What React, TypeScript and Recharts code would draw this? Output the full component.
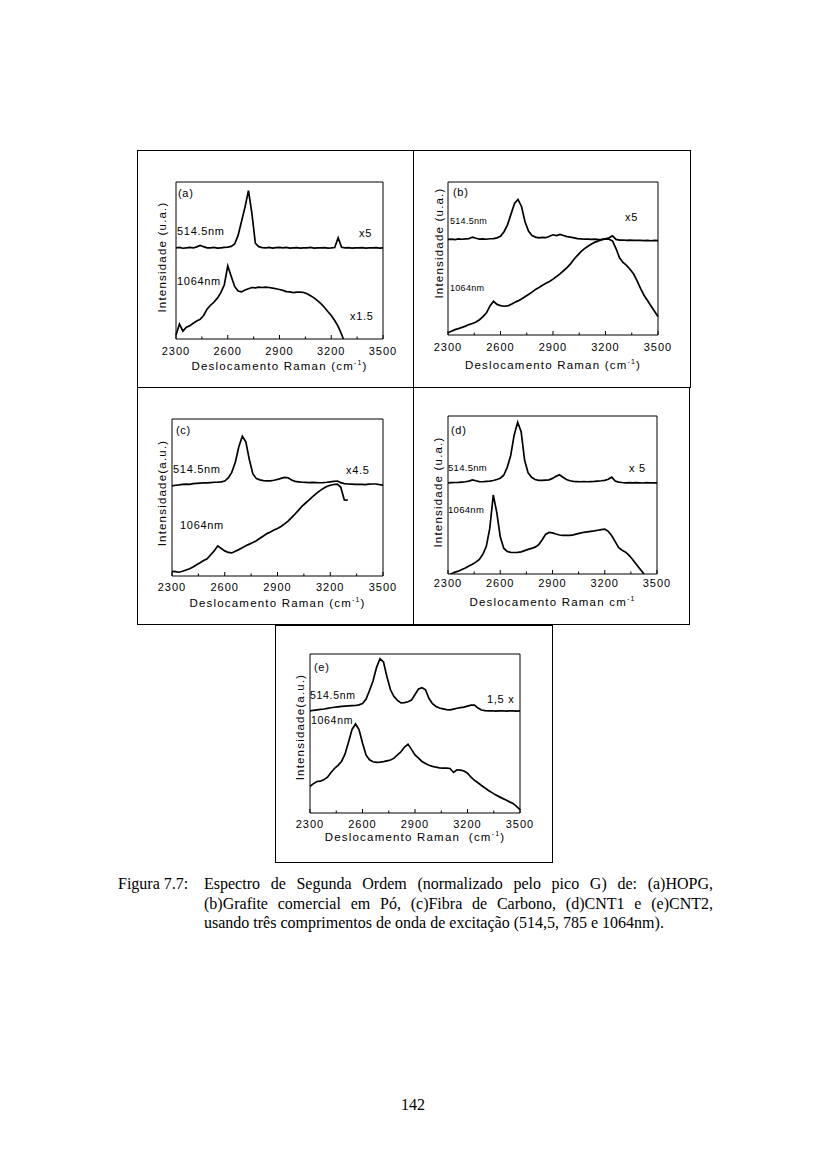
import React from "react";
import { LineChart, Line, XAxis, YAxis, ReferenceArea } from "recharts";

// Raman shift grid (cm-1), shared by every spectrum
const ramanShift = [
  2300, 2320, 2340, 2360, 2380, 2400, 2420, 2440, 2460, 2480,
  2500, 2520, 2540, 2560, 2580, 2600, 2620, 2640, 2660, 2680,
  2700, 2720, 2740, 2760, 2780, 2800, 2820, 2840, 2860, 2880,
  2900, 2920, 2940, 2960, 2980, 3000, 3020, 3040, 3060, 3080,
  3100, 3120, 3140, 3160, 3180, 3200, 3220, 3240, 3260, 3280,
  3300, 3320, 3340, 3360, 3380, 3400, 3420, 3440, 3460, 3480,
  3500,
];
const majorTicks = [2300, 2600, 2900, 3200, 3500];
const allTicks = [2300, 2450, 2600, 2750, 2900, 3050, 3200, 3350, 3500];

// (a) HOPG
const hopg514 = [
  58, 58.3, 57.8, 58.1, 58.4, 58, 58.7, 59.6, 58.8, 58.1,
  58, 58.3, 57.9, 58.1, 58.3, 58.5, 59, 60.5, 66, 75,
  84, 94.5, 80, 61, 58.8, 58.2, 58, 58.4, 57.9, 58.2,
  58.4, 58, 58.3, 57.9, 58.1, 58.2, 57.9, 58.1, 58, 58.3,
  57.9, 58.1, 58, 58.2, 57.9, 58, 58.3, 64.5, 58.4, 58,
  58.2, 57.9, 58.1, 58, 58.2, 57.9, 58.1, 58, 58.2, 57.9,
  58,
];
const hopg1064 = [
  2.5, 9.5, 5, 7.5, 8.5, 10, 11.5, 12.5, 15, 19,
  21.5, 23.5, 26, 29.5, 34.5, 46.5, 40, 33.5, 30.5, 30,
  31.2, 32, 32.8, 32.6, 33, 32.8, 33, 32.8, 32.4, 32,
  31.5, 31, 30.2, 30, 29.6, 29.8, 29.8, 29.6, 28.8, 27.5,
  26.2, 24.5, 22.5, 20.2, 17.5, 15, 11.8, 8, 3, -3,
  null, null, null, null, null, null, null, null, null, null,
  null,
];

// (b) Grafite comercial em Pó
const grafite514 = [
  62.5, 62.7, 62.4, 62.8, 62.6, 62.8, 63, 64, 63.2, 62.7,
  62.8, 62.6, 62.9, 63, 63.5, 64.5, 67.5, 72, 79, 86,
  88.6, 84, 74, 68, 65, 64, 63.5, 63.8, 63.6, 64.5,
  65.5, 65, 65.8, 65, 64.3, 64, 63.5, 63, 62.8, 62.6,
  62.7, 62.5, 62.6, 62.4, 62.5, 62.8, 63.5, 64.8, 62.5, 62,
  62.1, 61.8, 62, 61.8, 61.9, 61.8, 61.7, 61.9, 61.6, 61.8,
  61.7,
];
const grafite1064 = [
  1.5, 2.5, 3.5, 4.2, 5, 5.8, 6.8, 7.5, 8.5, 10,
  12, 14.5, 19, 22, 20, 19.2, 18.8, 19, 20, 21.2,
  22.3, 23.5, 25, 26.5, 28, 29.8, 31, 32.5, 33.8, 35,
  36.5, 38.2, 40, 42, 44, 46.5, 49.5, 52, 54.5, 56.5,
  58, 59.5, 60.7, 61.5, 62.3, 62.8, 62.6, 61.5, 56.5, 50.5,
  47.4, 45.5, 43, 40, 35.5, 30.5, 26, 22.5, 19, 15.5,
  12,
];

// (c) Fibra de Carbono
const fibra514 = [
  57.4, 57.8, 58, 58.3, 58.5, 58.4, 58.8, 59, 59.2, 59.4,
  59.3, 59.5, 59.7, 59.8, 60, 60.5, 62.5, 66, 72.5, 82.3,
  89, 85.5, 74, 65, 62, 61.2, 60.8, 60.6, 60.6, 61,
  61.5, 62.2, 62.8, 62.6, 61.2, 60.3, 60, 59.7, 59.6, 59.5,
  59.6, 59.5, 59.4, 59.5, 59.7, 60, 60.3, 60.5, 59.5, 58.8,
  58.6, 58.5, 58.4, 58.3, 58.4, 58.2, 58.5, 58.6, 58.6, 58.2,
  57.9,
];
const fibra1064 = [
  3, 2.8, 2.4, 3, 3.8, 4.6, 5.8, 7.2, 8.5, 9.8,
  11, 13.5, 16, 19.2, 17.5, 16, 15, 14.7, 15.8, 16.8,
  18, 19.2, 20.3, 21.3, 22.5, 24, 25.5, 27, 28, 29.3,
  30.2, 31.5, 33.2, 35, 37.2, 39.5, 42, 44.5, 46.5, 48.5,
  50.5, 52.5, 54.2, 55.8, 57, 57.8, 58.3, 58.5, 56.5, 48.5,
  48.3, null, null, null, null, null, null, null, null, null,
  null,
];

// (d) CNT1
const cnt1514 = [
  57.7, 57.8, 57.9, 58, 58.2, 58.4, 58.8, 59.6, 59, 58.5,
  58.4, 58.6, 58.8, 59.2, 59.8, 60.6, 62.5, 67.5, 75, 88,
  96, 90, 72, 64, 61.2, 59.8, 59.3, 59.2, 59.4, 59.6,
  60.5, 61.8, 62.8, 61.2, 59.8, 59, 58.6, 58.5, 58.4, 58.5,
  58.4, 58.5, 58.6, 58.8, 59, 59.3, 60, 61.3, 58.8, 58.2,
  57.9, 57.7, 57.8, 57.7, 57.8, 57.7, 57.6, 57.8, 57.7, 57.7,
  57.7,
];
const cnt11064 = [
  -1, 0.2, 1.2, 1.8, 2.8, 3.8, 5, 6.2, 7.5, 9.2,
  12.5, 17.5, 29, 50, 39, 23.5, 16.3, 14.3, 13.7, 13.6,
  13.7, 14, 14.8, 15.6, 16.2, 17, 18.5, 21.5, 25, 26.3,
  26, 25.3, 24.7, 24.5, 24.4, 24.4, 24.8, 25.4, 25.9, 26.4,
  26.7, 27, 27.3, 27.7, 28.1, 28.4, 27, 24.2, 20.5, 16.6,
  15, 13.8, 11.8, 9.2, 6.3, 3.5, 0.8, -3, null, null,
  null,
];

// (e) CNT2
const cnt2514 = [
  64.2, 64.6, 64.9, 65.2, 65.4, 65.8, 66.2, 66.5, 66.8, 67,
  67.2, 67.4, 67.5, 67.6, 68, 68.8, 71.5, 77, 83, 91.5,
  97, 95, 85.5, 77.5, 73.2, 70.8, 69.2, 69.4, 70, 71,
  74.5, 78, 78.8, 77.5, 72, 68.8, 67, 66, 65.5, 65,
  64.9, 65.3, 65.9, 66.3, 66.6, 67.2, 67.8, 67.8, 66, 64.8,
  64.4, 64.2, 64.3, 64.1, 64.2, 64.3, 64.1, 64.2, 64.2, 64.1,
  64.2,
];
const cnt21064 = [
  16.7, 18.5, 19.8, 20, 21, 22.5, 25.5, 28, 30, 32.4,
  37, 44.5, 52.5, 56, 52.5, 44, 36.5, 33.5, 32.2, 31.8,
  32, 32.3, 32.8, 33.3, 34.5, 36.5, 38.5, 41.5, 43.3, 40,
  36.5, 34.5, 32.4, 31.2, 30, 29.3, 28.8, 28.4, 28.2, 28.2,
  28, 25.5, 27.2, 27, 26.4, 25, 22.5, 20.5, 19, 17.3,
  15.7, 14.2, 12.8, 11.4, 10.3, 9.2, 8.2, 7, 6, 4.2,
  2.1,
];

const FONT = '"Liberation Sans", Arial, Helvetica, sans-serif';
const SERIF = '"Liberation Serif", "Times New Roman", serif';
const AXIS_H = 20;

type Rect = { x: number; y: number; w: number; h: number };
type Note = { text: string; x: number; y: number; size: number };

const RamanTick = (props: any) => {
  const { x, y, payload, gap } = props;
  const major = majorTicks.includes(payload.value);
  return (
    <g>
      <line x1={x} x2={x} y1={y} y2={y - (major ? 4 : 2.5)} stroke="#000" strokeWidth={1} />
      {major && (
        <text
          x={x}
          y={y + gap + 4}
          textAnchor="middle"
          fontSize={11}
          letterSpacing={1}
          fontFamily={FONT}
          fill="#000"
        >
          {payload.value}
        </text>
      )}
    </g>
  );
};

interface PanelProps {
  box: Rect;
  plot: Rect;
  hi: (number | null)[];
  lo: (number | null)[];
  tickGap: number;
  xTitle: React.ReactNode;
  xTitleY: number;
  yTitle: string;
  yTitleX: number;
  yTitleY: number;
  notes: Note[];
}

function Panel({ box, plot, hi, lo, tickGap, xTitle, xTitleY, yTitle, yTitleX, yTitleY, notes }: PanelProps) {
  const data = ramanShift.map((x, i) => ({ x, hi: hi[i], lo: lo[i] }));
  const margin = {
    left: plot.x - box.x,
    top: plot.y - box.y,
    right: box.x + box.w - plot.x - plot.w,
    bottom: box.y + box.h - plot.y - plot.h - AXIS_H,
  };
  return (
    <>
      <div
        style={{
          position: "absolute",
          left: box.x,
          top: box.y,
          width: box.w + 1,
          height: box.h + 1,
          border: "1px solid #000",
          boxSizing: "border-box",
        }}
      />
      <div style={{ position: "absolute", left: box.x, top: box.y }}>
        <LineChart width={box.w} height={box.h} data={data} margin={margin}>
          <XAxis
            dataKey="x"
            type="number"
            domain={[2300, 3500]}
            ticks={allTicks}
            interval={0}
            height={AXIS_H}
            axisLine={false}
            tickLine={false}
            tickSize={0}
            tickMargin={0}
            tick={(p: any) => <RamanTick {...p} gap={tickGap} />}
          />
          <YAxis hide domain={[0, 100]} allowDataOverflow />
          <ReferenceArea x1={2300} x2={3500} y1={0} y2={100} fill="none" stroke="#000" strokeWidth={1} />
          <Line type="linear" dataKey="hi" stroke="#000" strokeWidth={1.7} dot={false} isAnimationActive={false} />
          <Line type="linear" dataKey="lo" stroke="#000" strokeWidth={1.7} dot={false} isAnimationActive={false} />
        </LineChart>
      </div>
      <div
        style={{
          position: "absolute",
          left: plot.x + plot.w / 2,
          top: xTitleY,
          transform: "translate(-50%, -50%)",
          whiteSpace: "pre",
          fontFamily: FONT,
          fontSize: 11.5,
          letterSpacing: 1.2,
          lineHeight: 1,
        }}
      >
        {xTitle}
      </div>
      <div
        style={{
          position: "absolute",
          left: yTitleX,
          top: yTitleY,
          transform: "translate(-50%, -50%) rotate(-90deg)",
          whiteSpace: "nowrap",
          fontFamily: FONT,
          fontSize: 11.5,
          letterSpacing: 1.2,
          lineHeight: 1,
        }}
      >
        {yTitle}
      </div>
      {notes.map((n) => (
        <div
          key={n.text}
          style={{
            position: "absolute",
            left: n.x,
            top: n.y,
            transform: "translateY(-50%)",
            whiteSpace: "pre",
            fontFamily: FONT,
            fontSize: n.size,
            letterSpacing: n.size >= 10.5 ? 0.7 : 0.3,
            lineHeight: 1,
          }}
        >
          {n.text}
        </div>
      ))}
    </>
  );
}

const sup = (s: string) => (
  <sup style={{ fontSize: 7, verticalAlign: "super", lineHeight: 0 }}>{s}</sup>
);

export default function App() {
  return (
    <div style={{ position: "absolute", left: 0, top: 0, width: 826, height: 1169, background: "#fff", color: "#000" }}>
      <Panel
        box={{ x: 137, y: 150, w: 276, h: 237 }}
        plot={{ x: 176, y: 182, w: 207, h: 157 }}
        hi={hopg514}
        lo={hopg1064}
        tickGap={11.5}
        xTitle={<>Deslocamento Raman (cm{sup("-1")})</>}
        xTitleY={367}
        yTitle="Intensidade (u.a.)"
        yTitleX={163}
        yTitleY={257}
        notes={[
          { text: "(a)", x: 178, y: 193, size: 11 },
          { text: "514.5nm", x: 177, y: 231, size: 11 },
          { text: "x5", x: 359, y: 233, size: 11 },
          { text: "1064nm", x: 177, y: 281, size: 11 },
          { text: "x1.5", x: 350, y: 316, size: 11 },
        ]}
      />
      <Panel
        box={{ x: 413, y: 150, w: 277, h: 237 }}
        plot={{ x: 448, y: 182, w: 210, h: 153 }}
        hi={grafite514}
        lo={grafite1064}
        tickGap={12}
        xTitle={<>Deslocamento Raman (cm{sup("-1")})</>}
        xTitleY={366}
        yTitle="Intensidade (u.a.)"
        yTitleX={440}
        yTitleY={243}
        notes={[
          { text: "(b)", x: 453, y: 192, size: 11 },
          { text: "514.5nm", x: 450, y: 221, size: 9 },
          { text: "x5", x: 625, y: 217, size: 11 },
          { text: "1064nm", x: 450, y: 288, size: 9 },
        ]}
      />
      <Panel
        box={{ x: 137, y: 387, w: 276, h: 237 }}
        plot={{ x: 172, y: 419, w: 211, h: 157 }}
        hi={fibra514}
        lo={fibra1064}
        tickGap={11}
        xTitle={<>Deslocamento Raman (cm{sup("-1")})</>}
        xTitleY={604}
        yTitle="Intensidade(a.u.)"
        yTitleX={163}
        yTitleY={493}
        notes={[
          { text: "(c)", x: 176, y: 430, size: 11 },
          { text: "514.5nm", x: 173, y: 469, size: 11 },
          { text: "x4.5", x: 346, y: 470, size: 11 },
          { text: "1064nm", x: 180, y: 525, size: 11 },
        ]}
      />
      <Panel
        box={{ x: 413, y: 387, w: 276, h: 237 }}
        plot={{ x: 448, y: 416, w: 209, h: 158 }}
        hi={cnt1514}
        lo={cnt11064}
        tickGap={8.5}
        xTitle={<>Deslocamento Raman cm{sup("-1")}</>}
        xTitleY={603}
        yTitle="Intensidade (u.a.)"
        yTitleX={439}
        yTitleY={492}
        notes={[
          { text: "(d)", x: 451, y: 430, size: 11 },
          { text: "514.5nm", x: 448, y: 468, size: 9.5 },
          { text: "x 5", x: 629, y: 468, size: 11 },
          { text: "1064nm", x: 448, y: 510, size: 9.5 },
        ]}
      />
      <Panel
        box={{ x: 275, y: 625, w: 277, h: 237 }}
        plot={{ x: 310, y: 654, w: 210, h: 159 }}
        hi={cnt2514}
        lo={cnt21064}
        tickGap={11}
        xTitle={<>Deslocamento Raman  (cm{sup("-1")})</>}
        xTitleY={838}
        yTitle="Intensidade(a.u.)"
        yTitleX={301}
        yTitleY={727}
        notes={[
          { text: "(e)", x: 314, y: 667, size: 11 },
          { text: "514.5nm", x: 310, y: 695, size: 10.5 },
          { text: "1,5 x", x: 487, y: 699, size: 11 },
          { text: "1064nm", x: 311, y: 720, size: 10.5 },
        ]}
      />

      <div style={{ position: "absolute", left: 118, top: 874, fontFamily: SERIF, fontSize: 16, lineHeight: "19.5px" }}>
        Figura 7.7:
      </div>
      <div
        style={{
          position: "absolute",
          left: 204,
          top: 874,
          width: 509,
          fontFamily: SERIF,
          fontSize: 16,
          lineHeight: "19.5px",
        }}
      >
        <div style={{ textAlign: "justify", textAlignLast: "justify" }}>
          Espectro de Segunda Ordem (normalizado pelo pico G) de: (a)HOPG,
        </div>
        <div style={{ textAlign: "justify", textAlignLast: "justify" }}>
          (b)Grafite comercial em Pó, (c)Fibra de Carbono, (d)CNT1 e (e)CNT2,
        </div>
        <div style={{ whiteSpace: "nowrap" }}>
          usando três comprimentos de onda de excitação (514,5, 785 e 1064nm).
        </div>
      </div>
      <div
        style={{
          position: "absolute",
          left: 413,
          top: 1105,
          transform: "translate(-50%, -50%)",
          fontFamily: SERIF,
          fontSize: 16,
          lineHeight: 1,
        }}
      >
        142
      </div>
    </div>
  );
}
